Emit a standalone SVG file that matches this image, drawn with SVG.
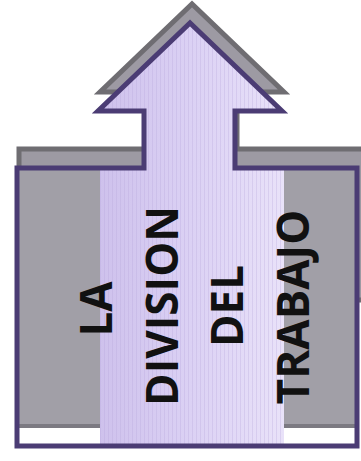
<svg xmlns="http://www.w3.org/2000/svg" width="361" height="461" viewBox="0 0 361 461">
  <defs>
    <linearGradient id="lav" gradientUnits="userSpaceOnUse" x1="98" y1="0" x2="284" y2="0">
      <stop offset="0" stop-color="#cec1ec"/>
      <stop offset="0.5" stop-color="#dbd1f4"/>
      <stop offset="1" stop-color="#e9e2f9"/>
    </linearGradient>
    <pattern id="stripes" patternUnits="userSpaceOnUse" width="4" height="10">
      <rect x="0" y="0" width="1" height="10" fill="#b7a8dc" opacity="0.3"/>
    </pattern>
    <style>
      .outline { fill: none; stroke: #4b3c74; stroke-width: 5; stroke-linejoin: miter; }
      .shadow { fill: #9d9aa3; stroke: #6f6d72; stroke-width: 5; stroke-linejoin: miter; }
      .gray { fill: #a19fa7; }
      .label { font-family: "Open Sans", "Liberation Sans", sans-serif; font-weight: bold; font-size: 44px; fill: #111111; text-anchor: middle; }
    </style>
  </defs>
  <rect x="0" y="0" width="361" height="461" fill="#ffffff"/>
  <g id="shadow">
    <path class="shadow" d="M19,149 H147 V92 H100 L192,4 L284,92 H237 V149 H370 V300 H19 Z"/>
  </g>
  <g id="box">
    <rect x="17" y="168" width="340" height="278" fill="#ffffff"/>
    <rect class="gray" x="17" y="168" width="83" height="259"/>
    <rect class="gray" x="284" y="168" width="73" height="259"/>
    <rect x="17" y="424" width="83" height="4" fill="#7c7a82"/>
    <rect x="284" y="424" width="73" height="4" fill="#7c7a82"/>
  </g>
  <g id="arrow">
    <path d="M144,168 V111 H98 L190,23 L282,111 H235 V168 H284 V444 H100 V168 Z" fill="url(#lav)"/>
    <path d="M144,168 V111 H98 L190,23 L282,111 H235 V168 H284 V444 H100 V168 Z" fill="url(#stripes)"/>
  </g>
  <g id="outline">
    <path class="outline" d="M17,168 H144 V111 H98 L190,23 L282,111 H235 V168 H357 V446 H17 Z"/>
  </g>
  <g id="labels" transform="rotate(-90)">
    <text class="label" x="-309" y="112">LA</text>
    <text class="label" x="-306" y="178">DIVISION</text>
    <text class="label" x="-306" y="243">DEL</text>
    <text class="label" x="-307" y="309">TRABAJO</text>
  </g>
</svg>
